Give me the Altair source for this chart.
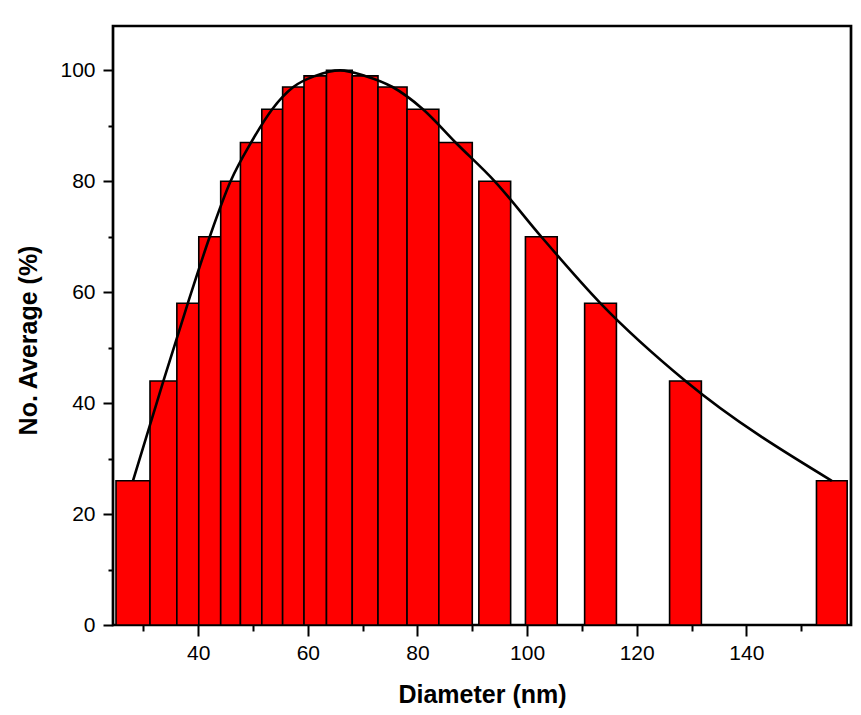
import altair as alt
import pandas as pd

# Histogram bins (nm) and heights (%)
bin_start = [25.0, 31.2, 36.1, 40.1, 44.1, 47.7, 51.6, 55.4, 59.3, 63.4,
             68.1, 72.8, 78.1, 83.9, 91.2, 99.7, 110.5, 126.0, 152.8]
bin_end = [31.2, 36.1, 40.1, 44.1, 47.7, 51.6, 55.4, 59.3, 63.4, 68.1,
           72.8, 78.1, 83.9, 90.0, 97.0, 105.5, 116.3, 131.8, 158.4]
heights = [26, 44, 58, 70, 80, 87, 93, 97, 99, 100,
           99, 97, 93, 87, 80, 70, 58, 44, 26]

# Fit curve points
curve_x = [28.1, 33.65, 38.1, 42.1, 45.9, 49.65, 53.5, 57.35, 61.35, 65.9,
           70.45, 75.45, 81.0, 86.95, 94.1, 102.6, 113.4, 128.9, 155.6]
curve_y = [26, 44, 58, 70, 80, 87, 93, 97, 99, 100,
           99, 97, 93, 87, 80, 70, 58, 44, 26]

x_ticks = [30, 40, 50, 60, 70, 80, 90, 100, 110, 120, 130, 140, 150]
y_ticks = [0, 10, 20, 30, 40, 50, 60, 70, 80, 90, 100]

bars = pd.DataFrame({"start": bin_start, "end": bin_end, "h": heights})
curve = pd.DataFrame({"x": curve_x, "y": curve_y})

FONT = "Liberation Sans"

xscale = alt.Scale(domain=[24.45, 159.1], nice=False, zero=False)
yscale = alt.Scale(domain=[0, 108], nice=False)

xaxis = alt.Axis(
    title="Diameter (nm)", values=x_ticks, grid=False, domain=False,
    labelExpr="datum.value % 20 == 0 ? datum.label : ''",
    tickSize={"condition": {"test": "datum.value % 20 == 0", "value": 11}, "value": 6},
    tickWidth=2, tickColor="black", labelFont=FONT, labelFontSize=21,
    labelColor="black", labelPadding=6, titleFont=FONT, titleFontSize=25,
    titleFontWeight="bold", titleColor="black", titlePadding=19,
)
yaxis = alt.Axis(
    title="No. Average (%)", values=y_ticks, grid=False, domain=False,
    labelExpr="datum.value % 20 == 0 ? datum.label : ''",
    tickSize={"condition": {"test": "datum.value % 20 == 0", "value": 10}, "value": 5},
    tickWidth=2, tickColor="black", labelFont=FONT, labelFontSize=21,
    labelColor="black", labelPadding=8, titleFont=FONT, titleFontSize=25,
    titleFontWeight="bold", titleColor="black", titlePadding=18, titleY=314,
)

bar_layer = alt.Chart(bars).mark_rect(
    fill="#FF0000", stroke="black", strokeWidth=1.6
).encode(
    x=alt.X("start:Q", scale=xscale, axis=xaxis),
    x2="end:Q",
    y=alt.Y("h:Q", scale=yscale, axis=yaxis),
    y2=alt.datum(0),
)

line_layer = alt.Chart(curve).mark_line(
    color="black", strokeWidth=2.6, interpolate="monotone"
).encode(
    x=alt.X("x:Q", scale=xscale),
    y=alt.Y("y:Q", scale=yscale),
)

chart = alt.layer(bar_layer, line_layer).properties(
    width=738, height=599,
    autosize=alt.AutoSizeParams(type="none"),
    padding={"left": 113, "top": 26, "right": 10, "bottom": 90},
    background="white",
).configure_view(stroke="black", strokeWidth=2.7)

chart.save("out.html", embed_options={"renderer": "svg", "actions": False})
